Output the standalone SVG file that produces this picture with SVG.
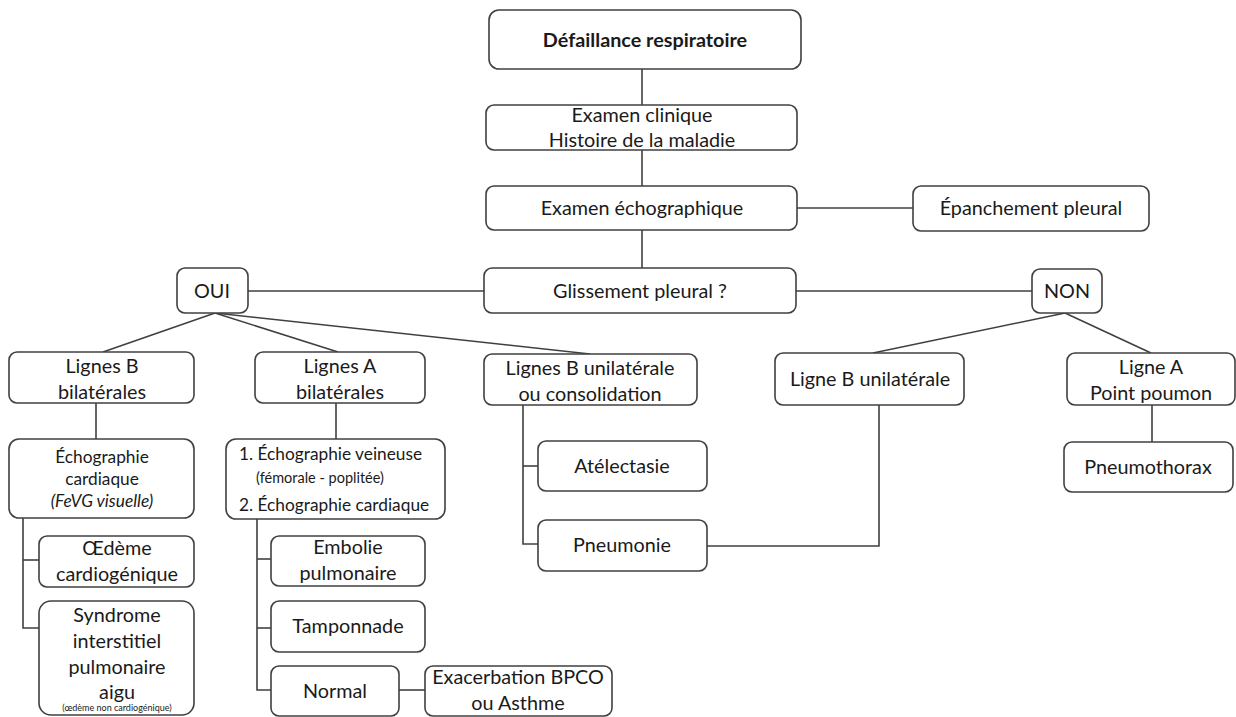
<svg xmlns="http://www.w3.org/2000/svg" width="1236" height="717" viewBox="0 0 1236 717">
<style>
.b{fill:#fff;stroke:#404040;stroke-width:1.6}
.c{fill:none;stroke:#404040;stroke-width:1.6}
text{font-family:Lato,"Open Sans","Liberation Sans",sans-serif;font-size:19.8px;fill:#1a1a1a;text-anchor:middle}
text.s{font-size:17.3px}
text.l{text-anchor:start}
text.t{font-size:14.5px}
text.xs{font-size:9px}
text.i{font-style:italic}
text.bd{font-weight:bold}
</style>
<rect width="1236" height="717" fill="#fff"/>
<g id="connectors">
<line class="c" x1="642" y1="69" x2="642" y2="105"/>
<line class="c" x1="642" y1="150" x2="642" y2="186"/>
<line class="c" x1="642" y1="230" x2="642" y2="268"/>
<line class="c" x1="797" y1="208" x2="913" y2="208"/>
<line class="c" x1="248" y1="291" x2="484" y2="291"/>
<line class="c" x1="796" y1="291" x2="1032" y2="291"/>
<line class="c" x1="215" y1="313" x2="103" y2="352"/>
<line class="c" x1="215" y1="313" x2="338" y2="352"/>
<line class="c" x1="215" y1="313" x2="590" y2="354"/>
<line class="c" x1="1065" y1="313" x2="873" y2="353"/>
<line class="c" x1="1065" y1="313" x2="1151" y2="353"/>
<line class="c" x1="96" y1="403" x2="96" y2="439"/>
<polyline class="c" points="23,518 23,628 39,628"/>
<line class="c" x1="23" y1="560" x2="39" y2="560"/>
<line class="c" x1="336" y1="403" x2="336" y2="439"/>
<polyline class="c" points="257,519 257,690 271,690"/>
<line class="c" x1="257" y1="559" x2="271" y2="559"/>
<line class="c" x1="257" y1="628" x2="271" y2="628"/>
<line class="c" x1="399" y1="690" x2="425" y2="690"/>
<polyline class="c" points="523,405 523,544 538,544"/>
<line class="c" x1="523" y1="466" x2="538" y2="466"/>
<polyline class="c" points="707,546 879,546 879,405"/>
<line class="c" x1="1152" y1="405" x2="1152" y2="442"/>
</g>
<g id="n-defaillance"><rect class="b" x="489" y="10" width="312" height="59" rx="10"/><text class="bd" x="645" y="47">Défaillance respiratoire</text></g>
<g id="n-clinique"><rect class="b" x="486" y="105" width="311" height="45" rx="8"/><text x="642" y="122">Examen clinique</text><text x="642" y="147">Histoire de la maladie</text></g>
<g id="n-echo"><rect class="b" x="486" y="186" width="311" height="44" rx="8"/><text x="642" y="215">Examen échographique</text></g>
<g id="n-epanchement"><rect class="b" x="913" y="186" width="236" height="45" rx="8"/><text x="1031" y="215">Épanchement pleural</text></g>
<g id="n-glissement"><rect class="b" x="484" y="268" width="312" height="45" rx="8"/><text x="640" y="298">Glissement pleural ?</text></g>
<g id="n-oui"><rect class="b" x="177" y="268" width="71" height="45" rx="8"/><text x="212" y="298">OUI</text></g>
<g id="n-non"><rect class="b" x="1032" y="269" width="70" height="44" rx="8"/><text x="1067" y="298">NON</text></g>
<g id="n-lignesB"><rect class="b" x="9" y="352" width="185" height="51" rx="8"/><text x="102" y="373">Lignes B</text><text x="102" y="399">bilatérales</text></g>
<g id="n-lignesA"><rect class="b" x="255" y="352" width="170" height="51" rx="8"/><text x="340" y="373">Lignes A</text><text x="340" y="399">bilatérales</text></g>
<g id="n-lignesBuni"><rect class="b" x="484" y="354" width="213" height="51" rx="8"/><text x="590" y="375">Lignes B unilatérale</text><text x="590" y="401">ou consolidation</text></g>
<g id="n-ligneBuni"><rect class="b" x="775" y="353" width="189" height="52" rx="8"/><text x="870" y="386">Ligne B unilatérale</text></g>
<g id="n-ligneA"><rect class="b" x="1067" y="353" width="168" height="52" rx="8"/><text x="1151" y="374">Ligne A</text><text x="1151" y="400">Point poumon</text></g>
<g id="n-pneumothorax"><rect class="b" x="1064" y="442" width="169" height="50" rx="8"/><text x="1148" y="474">Pneumothorax</text></g>
<g id="n-atelectasie"><rect class="b" x="538" y="441" width="169" height="50" rx="8"/><text x="622" y="473">Atélectasie</text></g>
<g id="n-pneumonie"><rect class="b" x="538" y="520" width="169" height="51" rx="8"/><text x="622" y="552">Pneumonie</text></g>
<g id="n-echocard"><rect class="b" x="9" y="439" width="185" height="79" rx="10"/><text class="s" x="102" y="463">Échographie</text><text class="s" x="102" y="485">cardiaque</text><text class="s i" x="102" y="507">(FeVG visuelle)</text></g>
<g id="n-echoveine"><rect class="b" x="226" y="439" width="219" height="80" rx="10"/><text class="s l" x="239" y="460">1. Échographie veineuse</text><text class="t l" x="256" y="483">(fémorale - poplitée)</text><text class="s l" x="239" y="511">2. Échographie cardiaque</text></g>
<g id="n-oedeme"><rect class="b" x="39" y="536" width="155" height="51" rx="8"/><text x="117" y="555">Œdème</text><text x="117" y="581">cardiogénique</text></g>
<g id="n-syndrome"><rect class="b" x="39" y="601" width="155" height="114" rx="12"/><text x="117" y="622">Syndrome</text><text x="117" y="648">interstitiel</text><text x="117" y="674">pulmonaire</text><text x="117" y="699">aigu</text><text class="xs" x="117" y="711">(œdème non cardiogénique)</text></g>
<g id="n-embolie"><rect class="b" x="271" y="536" width="154" height="50" rx="8"/><text x="348" y="554">Embolie</text><text x="348" y="580">pulmonaire</text></g>
<g id="n-tamponnade"><rect class="b" x="271" y="601" width="154" height="51" rx="8"/><text x="348" y="633">Tamponnade</text></g>
<g id="n-normal"><rect class="b" x="271" y="666" width="128" height="50" rx="8"/><text x="335" y="698">Normal</text></g>
<g id="n-exacerbation"><rect class="b" x="425" y="666" width="187" height="50" rx="8"/><text x="518" y="684">Exacerbation BPCO</text><text x="518" y="710">ou Asthme</text></g>
</svg>
